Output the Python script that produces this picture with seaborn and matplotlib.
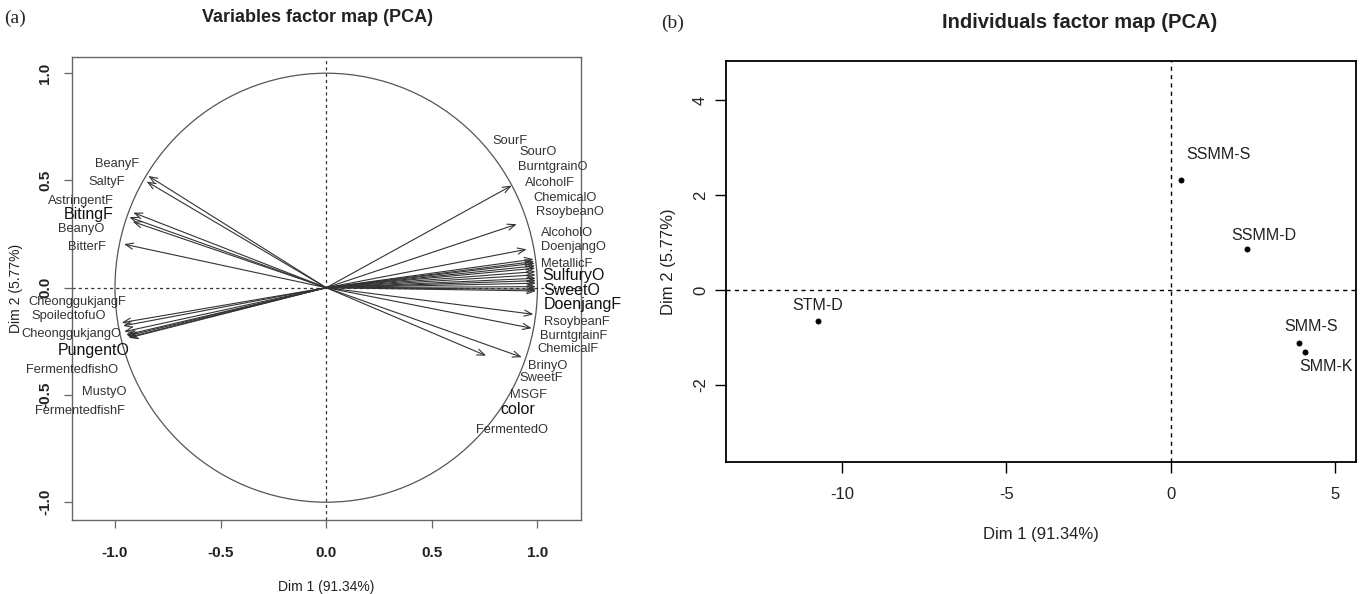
import matplotlib
matplotlib.use("Agg")
import matplotlib.pyplot as plt
from matplotlib.patches import Circle
import pandas as pd
import seaborn as sns

# variables (correlation circle)
var_names = ["BeanyF", "SaltyF", "AstringentF", "BitingF", "BeanyO", "BitterF",
             "CheonggukjangF", "SpoiledtofuO", "CheonggukjangO", "PungentO",
             "FermentedfishO", "MustyO", "FermentedfishF",
             "SourF", "SourO", "BurntgrainO", "AlcoholF", "ChemicalO", "RsoybeanO",
             "AlcoholO", "DoenjangO", "MetallicF", "SulfuryO", "SweetO", "DoenjangF",
             "RsoybeanF", "BurntgrainF", "ChemicalF", "BrinyO", "SweetF", "MSGF",
             "color", "FermentedO"]
var_dim1 = [-0.842, -0.850, -0.913, -0.932, -0.916, -0.957,
            -0.968, -0.962, -0.957, -0.948, -0.937, -0.943, -0.934,
            0.878, 0.902, 0.949, 0.982, 0.985, 0.987, 0.989, 0.990, 0.991, 0.992,
            0.993, 0.993, 0.993, 0.993, 0.993, 0.993, 0.981, 0.973, 0.926, 0.757]
var_dim2 = [0.521, 0.495, 0.350, 0.329, 0.308, 0.203,
            -0.163, -0.178, -0.205, -0.220, -0.231, -0.225, -0.234,
            0.476, 0.296, 0.179, 0.133, 0.122, 0.114, 0.102, 0.091, 0.075, 0.060,
            0.044, 0.033, 0.021, 0.005, -0.007, -0.015, -0.124, -0.189, -0.324, -0.317]
big_labels = ["BitingF", "PungentO", "SulfuryO", "SweetO", "DoenjangF", "color"]

# where the labels sit (layout only)
label_x = [-0.992, -1.04, -1.161, -1.126, -1.161, -1.131,
           -1.178, -1.221, -1.205, -1.103, -1.205, -1.052, -1.166,
           0.870, 1.004, 1.075, 1.06, 1.131, 1.154, 1.142, 1.170, 1.139, 1.173,
           1.162, 1.217, 1.186, 1.173, 1.146, 1.047, 1.020, 0.957, 0.907, 0.878]
label_y = [0.577, 0.495, 0.405, 0.339, 0.273, 0.192,
           -0.068, -0.130, -0.217, -0.293, -0.383, -0.487, -0.573,
           0.686, 0.632, 0.562, 0.49, 0.42, 0.355, 0.254, 0.189, 0.111, 0.055,
           -0.013, -0.080, -0.158, -0.225, -0.287, -0.363, -0.419, -0.5, -0.570, -0.663]

# individuals
ind_names = ["SSMM-S", "SSMM-D", "STM-D", "SMM-S", "SMM-K"]
ind_dim1 = [0.30, 2.32, -10.74, 3.89, 4.08]
ind_dim2 = [2.32, 0.86, -0.65, -1.12, -1.31]
ind_offsets = [(27, 18), (12, 10), (0, 11), (9, 12), (15, -10)]

sns.set_style("white")
plt.rcParams["font.family"] = ["Liberation Sans", "DejaVu Sans"]
plt.rcParams["axes.unicode_minus"] = False

W, H = 1364, 594
fig = plt.figure(figsize=(W / 100, H / 100), dpi=100)
ax1 = fig.add_axes([71.7 / W, 1 - 520 / H, (580.7 - 71.7) / W, (520 - 56.7) / H])
ax2 = fig.add_axes([726 / W, 1 - 462.3 / H, (1355.7 - 726) / W, (462.3 - 61) / H])

# ---- (a) variables factor map
ax1.set_xlim(-1.205, 1.205)
ax1.set_ylim(-1.083, 1.077)
ax1.add_patch(Circle((0, 0), 1, fill=False, ec="#555555", lw=0.9))
ax1.axhline(0, color="#333333", lw=0.9, ls=(0, (2.5, 2.5)))
ax1.axvline(0, color="#333333", lw=0.9, ls=(0, (2.5, 2.5)))
for x, y in zip(var_dim1, var_dim2):
    ax1.annotate("", xy=(x, y), xytext=(0, 0),
                 arrowprops=dict(arrowstyle="->,head_length=0.55,head_width=0.22",
                                 color="#333333", lw=0.8, shrinkA=0, shrinkB=0,
                                 mutation_scale=10))
for name, lx, ly in zip(var_names, label_x, label_y):
    big = name in big_labels
    ax1.text(lx, ly, name, ha="center", va="center",
             fontsize=11.5 if big else 9.3, color="#111111" if big else "#333333",
             clip_on=False)

ticks = [-1.0, -0.5, 0.0, 0.5, 1.0]
ax1.set_xticks(ticks)
ax1.set_xticklabels([f"{t:.1f}" for t in ticks], fontweight="bold")
ax1.set_yticks(ticks)
ax1.set_yticklabels([f"{t:.1f}" for t in ticks], fontweight="bold", rotation=90, va="center")
ax1.tick_params(axis="both", direction="out", length=6, width=0.9, color="#666666",
                labelsize=11, labelcolor="#222222", bottom=True, left=True)
ax1.tick_params(axis="x", pad=13)
ax1.tick_params(axis="y", pad=8)
for s in ax1.spines.values():
    s.set_color("#666666")
    s.set_linewidth(1.0)
ax1.set_xlabel("Dim 1 (91.34%)", fontsize=10, labelpad=14, color="#222222")
ax1.set_ylabel("Dim 2 (5.77%)", fontsize=10, labelpad=11, color="#222222")
fig.text(318 / W, 1 - 17 / H, "Variables factor map (PCA)", fontsize=13,
         fontweight="bold", ha="center", va="center", color="#222222")

# ---- (b) individuals factor map
ind = pd.DataFrame({"name": ind_names, "Dim1": ind_dim1, "Dim2": ind_dim2})
ax2.set_xlim(-13.53, 5.63)
ax2.set_ylim(-3.63, 4.82)
ax2.axhline(0, color="black", lw=1.0, ls=(0, (3, 3)))
ax2.axvline(0, color="black", lw=1.0, ls=(0, (3, 3)))
sns.scatterplot(data=ind, x="Dim1", y="Dim2", ax=ax2, color="black", s=14,
                edgecolor="black", linewidth=0.5, zorder=3)
for (_, r), off in zip(ind.iterrows(), ind_offsets):
    ax2.annotate(r["name"], (r["Dim1"], r["Dim2"]), xytext=off,
                 textcoords="offset points", ha="center", va="center",
                 fontsize=11.5, color="#222222")
ax2.set_xticks([-10, -5, 0, 5])
ax2.set_yticks([-2, 0, 2, 4])
ax2.set_yticklabels(["-2", "0", "2", "4"], rotation=90, va="center")
ax2.tick_params(axis="both", direction="out", length=8, width=1.0, color="black",
                labelsize=12, labelcolor="#222222", bottom=True, left=True)
ax2.tick_params(axis="x", pad=10)
ax2.tick_params(axis="y", pad=5)
for s in ax2.spines.values():
    s.set_color("black")
    s.set_linewidth(1.3)
ax2.set_xlabel("Dim 1 (91.34%)", fontsize=12, labelpad=18, color="#222222")
ax2.set_ylabel("Dim 2 (5.77%)", fontsize=12, labelpad=12, color="#222222")
fig.text(1080 / W, 1 - 22 / H, "Individuals factor map (PCA)", fontsize=14.5,
         fontweight="bold", ha="center", va="center", color="#222222")

# panel letters
fig.text(15 / W, 1 - 18 / H, "(a)", fontsize=14, family="Liberation Serif",
         ha="center", va="center")
fig.text(673 / W, 1 - 23 / H, "(b)", fontsize=14, family="Liberation Serif",
         ha="center", va="center")

fig.savefig("out.png", dpi=100)
